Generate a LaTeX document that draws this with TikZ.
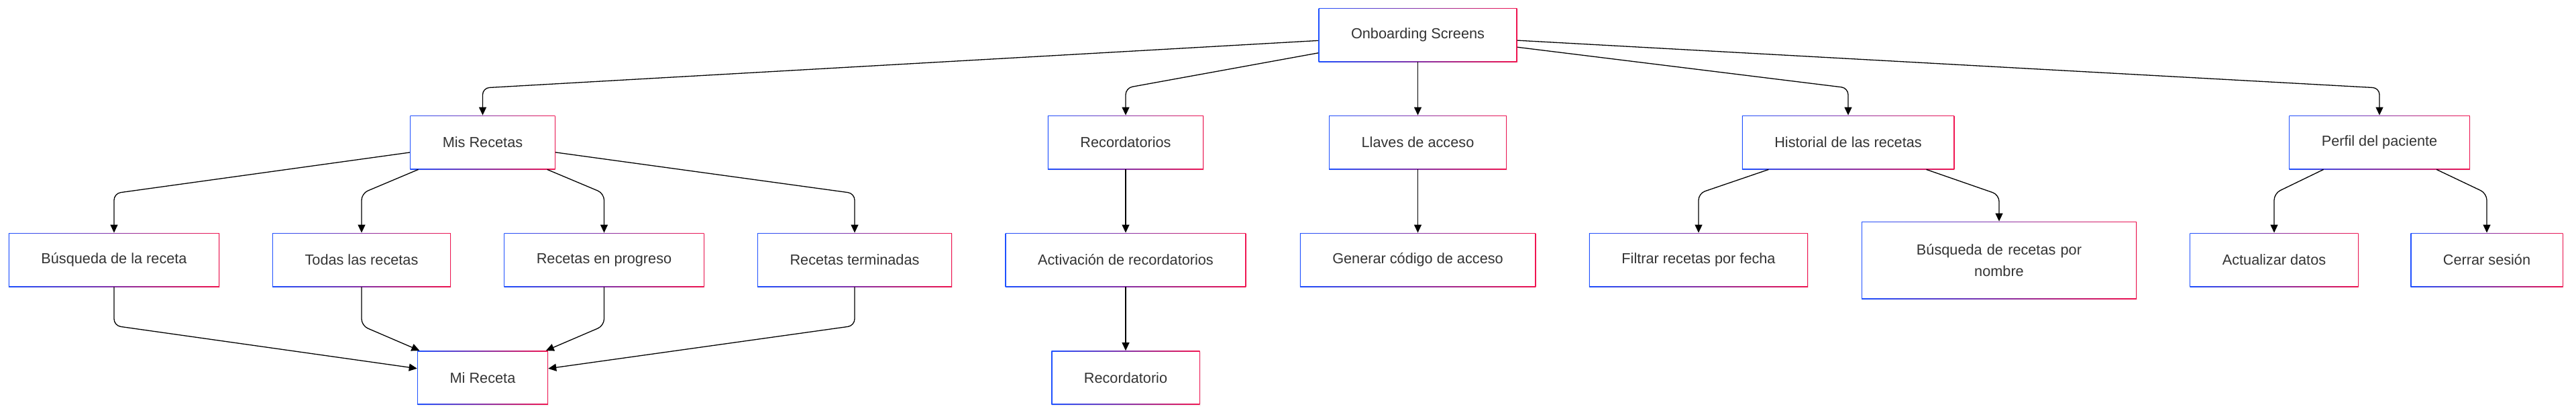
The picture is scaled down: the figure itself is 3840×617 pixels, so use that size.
\documentclass[tikz,border=0pt]{standalone}
\usepackage{fontspec}
\setmainfont{Liberation Sans}
\usetikzlibrary{arrows.meta, shadows}
\definecolor{boxblue}{RGB}{30,80,255}
\definecolor{boxred}{RGB}{240,20,80}
\definecolor{boxtext}{RGB}{51,51,51}

\begin{document}
\begin{tikzpicture}[x=0.5pt, y=-0.5pt,
    screen/.style={rectangle, left color=boxblue, right color=boxred,
      drop shadow={shadow xshift=0.5pt, shadow yshift=-1pt, opacity=0.08},
      path picture={\fill[white] ([shift={(0.55pt,0.55pt)}]path picture bounding box.south west)
        rectangle ([shift={(-0.55pt,-0.55pt)}]path picture bounding box.north east);},
      inner xsep=24.25pt, minimum height=40pt, align=center, text=boxtext,
      font=\fontsize{10.85pt}{16pt}\selectfont},
    link/.style={draw=black, line width=0.65pt, rounded corners=5pt,
      -{Triangle[length=6pt, width=5.5pt]}}]
  \useasboundingbox (0,0) rectangle (3840,617);
  % top level
  \node[screen] (os) at (2113.5,52) {Onboarding Screens};
  % second row
  \node[screen] (ms)  at (719.5,212) {Mis Recetas};
  \node[screen] (rec) at (1678,212)  {Recordatorios};
  \node[screen] (lla) at (2113.5,212) {Llaves de acceso};
  \node[screen] (his) at (2755,212)  {Historial de las recetas};
  \node[screen] (per) at (3547,212)  {Perfil del paciente};
  % third row
  \node[screen] (bus)  at (170,387)    {Búsqueda de la receta};
  \node[screen] (tod)  at (539,387)    {Todas las recetas};
  \node[screen] (prog) at (900.5,387)  {Recetas en progreso};
  \node[screen] (term) at (1274,387)   {Recetas terminadas};
  \node[screen] (act)  at (1678,387)   {Activación de recordatorios};
  \node[screen] (gen)  at (2113.5,387) {Generar código de acceso};
  \node[screen] (fil)  at (2532,387)   {Filtrar recetas por fecha};
  \node[screen, text width=156.5pt, minimum height=57.5pt] (bpn) at (2980,387.5)
    {Búsqueda de recetas por\\nombre};
  \node[screen] (upd) at (3390,387) {Actualizar datos};
  \node[screen] (cer) at (3707,387) {Cerrar sesión};
  % bottom row
  \node[screen] (mir) at (719.5,562.5) {Mi Receta};
  \node[screen] (rdo) at (1678,562.5)  {Recordatorio};

  % links from the top
  \draw[link] (os) -- (ms.north |- 0,131) -- (ms.north);
  \draw[link] (os) -- (rec.north |- 0,131) -- (rec.north);
  \draw[link] (os) -- (lla);
  \draw[link] (os) -- (his.north |- 0,131) -- (his.north);
  \draw[link] (os) -- (per.north |- 0,131) -- (per.north);
  % second row to third row
  \draw[link] (ms) -- (bus.north |- 0,288) -- (bus.north);
  \draw[link] (ms) -- (tod.north |- 0,288) -- (tod.north);
  \draw[link] (ms) -- (prog.north |- 0,288) -- (prog.north);
  \draw[link] (ms) -- (term.north |- 0,288) -- (term.north);
  \draw[link] (rec) -- (act);
  \draw[link] (lla) -- (gen);
  \draw[link] (his) -- (fil.north |- 0,288) -- (fil.north);
  \draw[link] (his) -- (bpn.north |- 0,290) -- (bpn.north);
  \draw[link] (per) -- (upd.north |- 0,288) -- (upd.north);
  \draw[link] (per) -- (cer.north |- 0,288) -- (cer.north);
  % into the bottom row
  \draw[link] (bus.south) -- (bus.south |- 0,485) -- (mir);
  \draw[link] (tod.south) -- (tod.south |- 0,485) -- (mir);
  \draw[link] (prog.south) -- (prog.south |- 0,485) -- (mir);
  \draw[link] (term.south) -- (term.south |- 0,485) -- (mir);
  \draw[link] (act) -- (rdo);
\end{tikzpicture}
\end{document}
